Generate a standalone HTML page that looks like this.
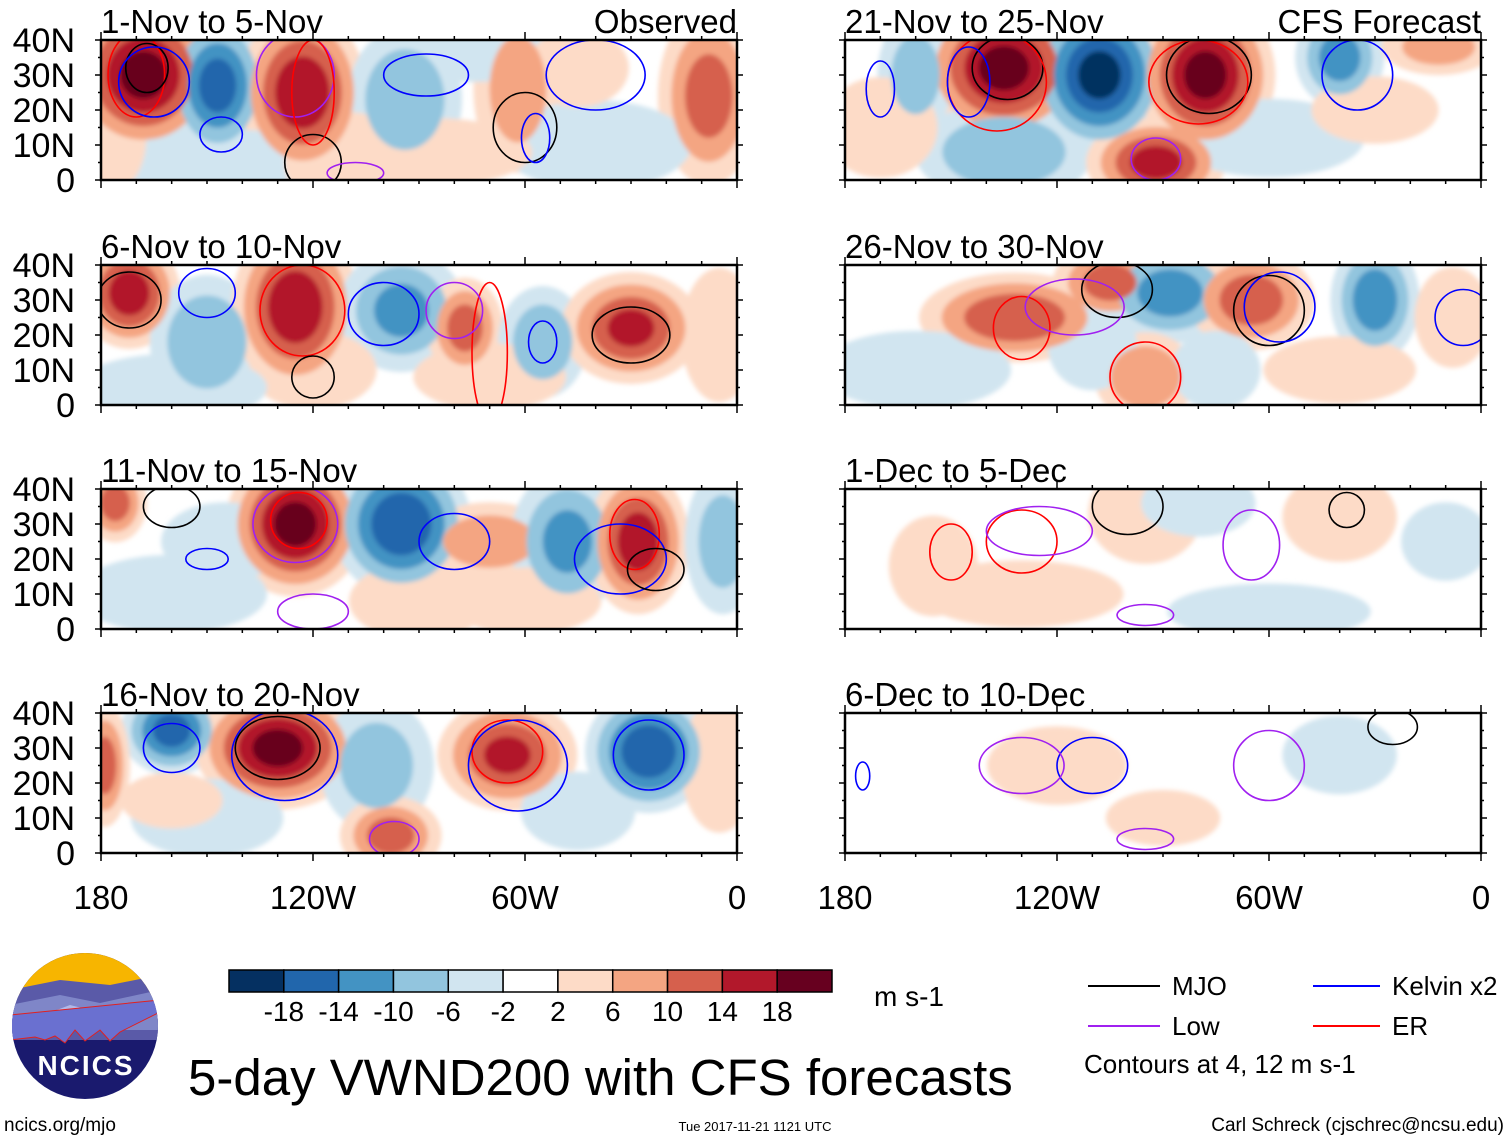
<!DOCTYPE html>
<html><head><meta charset="utf-8">
<style>
html,body{margin:0;padding:0;background:#fff;}
svg{display:block;font-family:"Liberation Sans",sans-serif;}
</style></head>
<body>
<svg id="chart" width="1510" height="1141" viewBox="0 0 1510 1141" xmlns="http://www.w3.org/2000/svg">
<defs><filter id="soft" x="-20%" y="-20%" width="140%" height="140%"><feGaussianBlur stdDeviation="2.5"/></filter></defs>
<g id="panels"></g>
<g id="colorbar"></g>
<text x="874" y="1006" font-size="28">m s-1</text>
<g>
<line x1="1088" y1="986" x2="1160" y2="986" stroke="#000" stroke-width="2"/>
<text x="1172" y="995" font-size="26">MJO</text>
<line x1="1313" y1="986" x2="1380" y2="986" stroke="#0000ff" stroke-width="2"/>
<text x="1392" y="995" font-size="26">Kelvin x2</text>
<line x1="1088" y1="1026" x2="1160" y2="1026" stroke="#a020f0" stroke-width="2"/>
<text x="1172" y="1035" font-size="26">Low</text>
<line x1="1313" y1="1026" x2="1380" y2="1026" stroke="#ff0000" stroke-width="2"/>
<text x="1392" y="1035" font-size="26">ER</text>
<text x="1084" y="1073" font-size="26">Contours at 4, 12 m s-1</text>
</g>
<g>
<clipPath id="lc"><circle cx="85" cy="1026" r="73"/></clipPath>
<g clip-path="url(#lc)">
<rect x="10" y="950" width="150" height="152" fill="#1a1a6e"/>
<rect x="10" y="950" width="150" height="45" fill="#f7b500"/>
<path d="M10 990 L60 980 L110 985 L160 975 L160 1040 L10 1040Z" fill="#5a5aa8"/>
<path d="M10 1005 L60 995 L100 1003 L160 990 L160 1030 L10 1030Z" fill="#7f86c8"/>
<path d="M25 1022 L70 1005 L90 1010 L60 1020Z" fill="#b0b8e8"/>
<path d="M10 1040 L35 1037 L45 1040 L55 1036 L65 1043 L75 1030 L85 1041 L100 1030 L110 1041 L120 1032 L160 1012 L160 1000 L10 1015Z" fill="#6a70d0" stroke="#e02020" stroke-width="1"/>
</g>
<text x="86" y="1075" font-size="28" font-weight="bold" fill="#fff" text-anchor="middle" letter-spacing="2">NCICS</text>
</g>
<text x="188" y="1095" font-size="51">5-day VWND200 with CFS forecasts</text>
<text x="4" y="1131" font-size="19">ncics.org/mjo</text>
<text x="755" y="1131" font-size="13" text-anchor="middle">Tue 2017-11-21 1121 UTC</text>
<text x="1504" y="1131" font-size="19" text-anchor="end">Carl Schreck (cjschrec@ncsu.edu)</text>
</svg>
<script>
const panelTitles = ["1-Nov to 5-Nov","6-Nov to 10-Nov","11-Nov to 15-Nov","16-Nov to 20-Nov",
  "21-Nov to 25-Nov","26-Nov to 30-Nov","1-Dec to 5-Dec","6-Dec to 10-Dec"];
const levels = [-18,-14,-10,-6,-2,2,6,10,14,18];
const levelColors = ["#053061","#2166ac","#4393c3","#92c5de","#d1e5f0","#ffffff","#fddbc7","#f4a582","#d6604d","#b2182b","#67001f"];
const latTicks = ["0","10N","20N","30N","40N"];
const lonTicks = ["180","120W","60W","0"];
// Anomaly centres per panel: [lon, lat, value, lonRadius, latRadius]
const anom0 = [[-168,30,20,12,14],[-147,27,-16,8,13],[-123,25,18,10,15],[-94,23,-10,9,13],[-62,26,8,7,15],[-75,36,-6,14,5],[-8,24,12,8,16],[-150,5,-4,25,6],[-110,5,5,10,9],[-40,10,-3,15,8],[-85,8,3,15,6],[-178,12,4,6,10],[-45,32,3,8,7]];
const anom1 = [[-172,32,17,8,10],[-150,18,-10,9,12],[-125,28,18,10,15],[-95,27,-11,10,11],[-77,22,12,6,9],[-55,18,-9,7,10],[-30,22,15,11,10],[-120,10,6,10,7],[-160,5,-4,15,6],[-70,8,3,12,6],[-5,20,5,6,12]];
const anom2 = [[-176,36,12,5,7],[-125,30,20,11,13],[-95,30,-18,11,13],[-70,25,9,11,7],[-48,25,-11,9,13],[-28,25,17,8,13],[-4,25,-8,6,13],[-145,25,-4,10,7],[-90,8,6,11,7],[-160,10,-3,15,7],[-60,8,3,12,6]];
const anom3 = [[-160,35,-16,8,8],[-179,25,12,4,11],[-130,30,20,13,11],[-102,25,-8,9,12],[-65,28,15,11,10],[-25,29,-18,10,11],[-98,5,12,8,7],[-45,12,-6,9,7],[-5,25,6,6,12],[-150,10,-4,12,7],[-160,15,3,8,5]];
const anom4 = [[-135,32,20,13,13],[-108,30,-20,11,14],[-78,30,20,11,14],[-40,35,-12,7,9],[-135,8,-10,14,9],[-92,5,16,11,8],[-160,30,-8,6,11],[-12,38,8,9,5],[-170,15,4,9,9],[-60,12,-4,15,7],[-30,20,4,10,6]];
const anom5 = [[-132,25,14,15,8],[-105,35,12,9,7],[-88,32,-12,11,9],[-65,30,13,10,9],[-30,30,-13,7,11],[-95,8,10,8,8],[-110,17,-6,7,8],[-75,10,-6,7,7],[-8,25,6,6,9],[-160,10,-4,15,7],[-40,10,3,12,6]];
const anom6 = [[-95,33,6,9,9],[-80,36,-6,9,6],[-40,32,4,9,8],[-10,25,-6,7,7],[-155,18,4,7,9],[-130,10,3,16,6],[-60,5,-3,16,5]];
const anom7 = [[-120,25,3,11,7],[-40,28,-4,9,7],[-90,10,3,9,5],[-160,30,-2,9,7]];
const anomalies = [anom0,anom1,anom2,anom3,anom4,anom5,anom6,anom7];
// Contours per panel: [lon, lat, lonRadius, latRadius, type]
const cont0 = [[-170,30,8,12,"er"],[-167,32,6,7,"mjo"],[-165,28,10,10,"kel"],[-146,13,6,5,"kel"],[-125,30,11,12,"low"],[-60,15,9,10,"mjo"],[-57,12,4,7,"kel"],[-40,30,14,10,"kel"],[-88,30,12,6,"kel"],[-120,5,8,8,"mjo"],[-108,2,8,3,"low"],[-120,25,6,15,"er"]];
const cont1 = [[-172,30,9,8,"mjo"],[-150,32,8,7,"kel"],[-123,27,12,13,"er"],[-100,26,10,9,"kel"],[-55,18,4,6,"kel"],[-30,20,11,8,"mjo"],[-70,15,5,20,"er"],[-80,27,8,8,"low"],[-120,8,6,6,"mjo"]];
const cont2 = [[-160,35,8,6,"mjo"],[-125,30,12,11,"low"],[-124,31,8,8,"er"],[-80,25,10,8,"kel"],[-29,27,7,10,"er"],[-33,20,13,10,"kel"],[-23,17,8,6,"mjo"],[-120,5,10,5,"low"],[-150,20,6,3,"kel"]];
const cont3 = [[-130,30,12,9,"mjo"],[-128,28,15,13,"kel"],[-65,29,10,9,"er"],[-62,25,14,13,"kel"],[-25,28,10,10,"kel"],[-97,4,7,5,"low"],[-160,30,8,7,"kel"]];
const cont4 = [[-134,32,10,9,"mjo"],[-137,28,14,14,"er"],[-145,28,6,10,"kel"],[-77,30,12,11,"mjo"],[-80,28,14,12,"er"],[-35,30,10,10,"kel"],[-92,6,7,6,"low"],[-170,26,4,8,"kel"]];
const cont5 = [[-103,33,10,8,"mjo"],[-130,22,8,9,"er"],[-115,28,14,8,"low"],[-60,27,10,10,"mjo"],[-57,28,10,10,"kel"],[-95,8,10,10,"er"],[-5,25,8,8,"kel"]];
const cont6 = [[-100,35,10,8,"mjo"],[-130,25,10,9,"er"],[-125,28,15,7,"low"],[-38,34,5,5,"mjo"],[-65,24,8,10,"low"],[-150,22,6,8,"er"],[-95,4,8,3,"low"]];
const cont7 = [[-110,25,10,8,"kel"],[-60,25,10,10,"low"],[-25,36,7,5,"mjo"],[-175,22,2,4,"kel"],[-130,25,12,8,"low"],[-95,4,8,3,"low"]];
const contours = [cont0,cont1,cont2,cont3,cont4,cont5,cont6,cont7];
const contourColors = {mjo:"#000000",kel:"#0000ff",low:"#a020f0",er:"#ff0000"};

const NS = "http://www.w3.org/2000/svg";
const panelLeft = [101,845], panelTop = [40,265,489,713], PW = 636, PH = 140;
function mk(tag, attrs, parent){const e=document.createElementNS(NS,tag);for(const k in attrs)e.setAttribute(k,attrs[k]);parent.appendChild(e);return e;}
function xScale(x0, lon){return x0 + (lon+180)/180*PW;}
function yScale(y0, lat){return y0 + PH - lat/40*PH;}
function colorIndexFor(v){let i=0;while(i<levels.length && v>levels[i])i++;return i;}

const root = document.getElementById("panels");
panelTitles.forEach((title,p)=>{
  const col = p<4?0:1, row = p%4;
  const x0 = panelLeft[col], y0 = panelTop[row];
  const g = mk("g",{},root);
  
  
  const cid = "clip"+p;
  const cp = mk("clipPath",{id:cid},g); mk("rect",{x:x0,y:y0,width:PW,height:PH},cp);
  const inner = mk("g",{"clip-path":"url(#"+cid+")"},g);
  mk("rect",{x:x0,y:y0,width:PW,height:PH,fill:"#fff"},inner);
  const shade = mk("g",{filter:"url(#soft)"},inner);
  // draw all rings ordered by level magnitude so strong cores sit on top of weak halos
  const rings = [];
  anomalies[p].forEach((a)=>{
    const [lon,lat,val,rl,rt]=a;
    const sign = val<0?-1:1, mag=Math.abs(val);
    const cx = xScale(x0,lon), cy = yScale(y0,lat);
    const rx = rl/180*PW*1.8, ry = rt/40*PH*1.6;
    [2,6,10,14,18].filter(t=>mag>t).forEach(t=>{
      const f = 1 - (t-2)/(mag+3);
      rings.push({t:t,cx:cx,cy:cy,rx:rx*f,ry:ry*f,fill:levelColors[colorIndexFor(sign*(t+1))]});
    });
  });
  rings.sort((a,b)=>a.t-b.t).forEach(r=>{
    const el = mk("ellipse",{cx:r.cx,cy:r.cy,rx:r.rx,ry:r.ry,fill:r.fill},shade);
    
    
  });
  contours[p].forEach(c=>{
    const [lon,lat,rl,rt,type]=c;
    const el = mk("ellipse",{cx:xScale(x0,lon),cy:yScale(y0,lat),rx:rl/180*PW,ry:rt/40*PH,fill:"none",stroke:contourColors[type],"stroke-width":1.6},inner);
    
    
  });
  const fr = mk("rect",{x:x0,y:y0,width:PW,height:PH,fill:"none",stroke:"#000","stroke-width":2.5},g);
  
  
  for(let lon=-180;lon<=0;lon+=10){
    const x=xScale(x0,lon), len = (lon%60===0)?8:4;
    mk("line",{x1:x,y1:y0,x2:x,y2:y0-len,stroke:"#000","stroke-width":1.5},g);
    mk("line",{x1:x,y1:y0+PH,x2:x,y2:y0+PH+len,stroke:"#000","stroke-width":1.5},g);
  }
  for(let lat=0;lat<=40;lat+=5){
    const y=yScale(y0,lat), len=(lat%10===0)?6:3;
    mk("line",{x1:x0-len,y1:y,x2:x0,y2:y,stroke:"#000","stroke-width":1.5},g);
    mk("line",{x1:x0+PW,y1:y,x2:x0+PW+len,y2:y,stroke:"#000","stroke-width":1.5},g);
  }
  const t = mk("text",{x:x0,y:y0-7,"font-size":33},g); t.textContent=title;
  
  
  if(p===0||p===4){
    const r = mk("text",{x:x0+PW,y:y0-7,"font-size":33,"text-anchor":"end"},g);
    r.textContent = p===0?"Observed":"CFS Forecast";
    
    
  }
  if(col===0){
    latTicks.forEach((lb,i)=>{
      const l = mk("text",{x:75,y:yScale(y0,i*10)+12,"font-size":34,"text-anchor":"end"},g);
      l.textContent=lb;
      
      
    });
  }
  if(row===3){
    lonTicks.forEach((lb,i)=>{
      const l = mk("text",{x:xScale(x0,-180+i*60),y:909,"font-size":33,"text-anchor":"middle"},g);
      l.textContent=lb;
      
      
    });
  }
});
const cb = document.getElementById("colorbar");
const cbX=229, cbY=970, cbW=603/11;
levelColors.forEach((c,i)=>{
  const r = mk("rect",{x:cbX+i*cbW,y:cbY,width:cbW,height:22,fill:c,stroke:"#000","stroke-width":1.5},cb);
  
  
});
levels.forEach((v,i)=>{
  const t = mk("text",{x:cbX+(i+1)*cbW,y:1021,"font-size":28,"text-anchor":"middle"},cb);
  t.textContent = v;
  
  
});
</script>
</body></html>
